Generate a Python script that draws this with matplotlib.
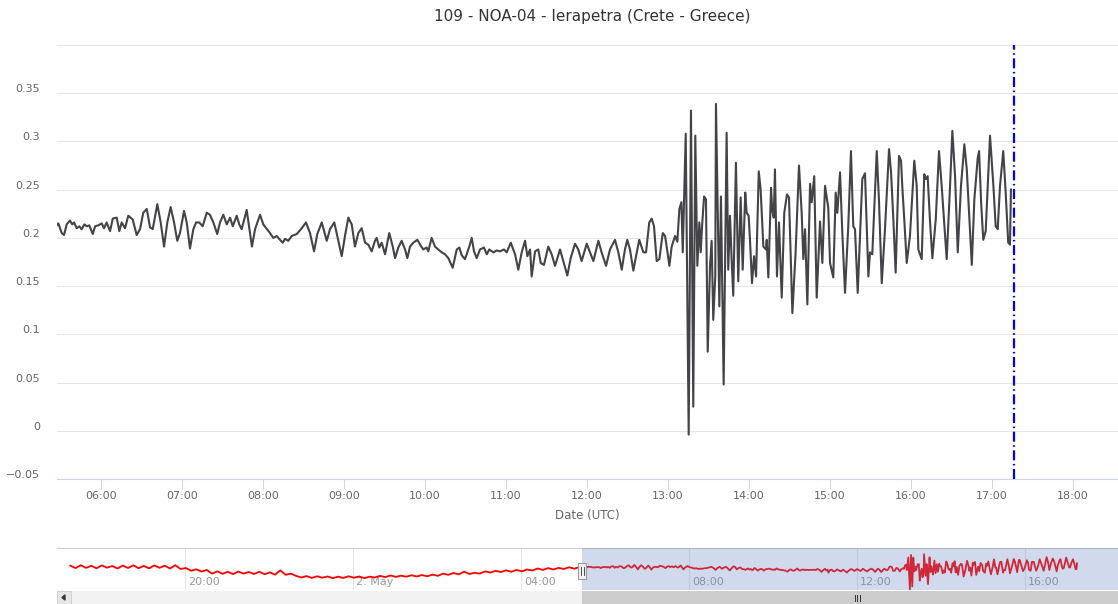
import numpy as np
import pandas as pd
import matplotlib
matplotlib.use('Agg')
from matplotlib import pyplot as plt
import matplotlib.dates as mdates
from matplotlib.transforms import ScaledTranslation
from matplotlib.patches import Rectangle, Polygon

plt.rcParams['font.family'] = ['DejaVu Sans']

day = pd.Timestamp('2020-05-02')
title = '109 - NOA-04 - Ierapetra (Crete - Greece)'

# sea level (m), minutes after 00:00 UTC 2 May
main_min = [
    326.7, 328.4, 330.9, 332.6, 334.6, 337.0, 338.7, 340.0, 342.0, 343.9,
    345.7, 347.6, 349.4, 351.3, 353.9, 355.6, 358.0, 360.5, 362.2, 364.2,
    366.7, 368.7, 371.6, 373.6, 375.3, 377.8, 380.2, 383.5, 386.4, 388.9,
    391.3, 393.9, 396.3, 398.3, 401.7, 404.2, 406.7, 409.1, 411.6, 414.1,
    416.5, 418.5, 421.5, 423.5, 425.9, 428.4, 430.4, 432.8, 435.3, 438.3,
    440.7, 443.2, 446.1, 448.1, 450.6, 453.1, 455.6, 457.6, 460.5, 462.4,
    464.2, 467.9, 471.8, 474.1, 477.8, 480.2, 485.2, 487.6, 490.1, 492.6,
    494.6, 496.3, 498.7, 501.3, 505.0, 508.7, 511.8, 514.8, 517.8, 520.2,
    523.5, 527.2, 529.6, 532.8, 538.3, 540.7, 543.2, 545.7, 548.1, 550.6,
    553.1, 555.6, 558.0, 560.5, 562.9, 564.2, 566.1, 567.9, 570.4, 573.5,
    576.1, 577.8, 580.2, 582.7, 585.2, 586.9, 588.9, 591.3, 594.3, 596.8,
    598.7, 601.2, 602.4, 604.9, 607.4, 609.8, 612.4, 614.8, 617.3, 620.5,
    623.5, 625.4, 627.2, 629.6, 632.8, 634.6, 636.3, 638.3, 640.7, 643.7,
    645.7, 647.6, 650.6, 653.1, 655.5, 658.5, 660.5, 663.5, 666.7, 669.1,
    671.6, 674.1, 675.8, 677.8, 679.0, 681.5, 683.9, 685.7, 688.1, 691.3,
    693.8, 696.3, 700.0, 702.4, 705.4, 707.9, 711.1, 713.5, 716.0, 719.8,
    722.2, 724.7, 728.4, 730.8, 734.1, 737.0, 740.7, 743.2, 745.7, 748.1,
    749.8, 751.8, 754.3, 756.3, 758.7, 761.7, 763.7, 766.1, 767.9, 769.6,
    771.6, 773.6, 776.1, 777.8, 779.0, 781.0, 782.7, 785.2, 786.9, 788.4,
    789.9, 790.9, 793.1, 795.3, 797.0, 798.7, 800.2, 801.7, 803.2, 804.2,
    805.2, 806.7, 808.1, 809.4, 811.1, 812.3, 813.5, 815.0, 815.5, 818.0,
    819.2, 821.2, 823.4, 824.6, 825.9, 827.1, 828.3, 830.3, 832.0, 833.8,
    835.3, 837.2, 838.2, 839.7, 840.7, 842.2, 843.7, 845.2, 847.2, 848.6,
    850.6, 852.6, 853.1, 854.3, 856.3, 857.2, 858.3, 859.2, 860.7, 862.2,
    864.2, 866.1, 868.1, 869.6, 872.1, 874.5, 877.0, 879.0, 880.2, 881.5,
    883.2, 885.2, 886.4, 888.3, 890.1, 892.6, 894.3, 896.3, 898.7, 900.0,
    902.4, 904.2, 905.4, 907.4, 909.1, 911.1, 913.5, 915.5, 917.2, 918.5,
    920.5, 923.9, 925.9, 928.4, 929.6, 931.3, 934.6, 936.3, 938.3, 940.7,
    943.7, 945.2, 946.9, 948.6, 951.1, 952.6, 953.5, 955.0, 956.8, 959.2,
    962.4, 964.2, 965.4, 967.9, 969.8, 970.9, 972.3, 974.1, 975.8, 978.3,
    980.7, 982.7, 986.4, 988.9, 990.6, 992.6, 994.6, 997.0, 999.5, 1001.3,
    1005.0, 1006.9, 1009.4, 1010.4, 1011.9, 1013.5, 1015.3, 1018.5, 1021.0, 1022.7,
    1024.2, 1025.9, 1028.3, 1030.1, 1032.0, 1033.3, 1034.0]
main_val = [
    0.212, 0.215, 0.205, 0.203, 0.214, 0.218, 0.214, 0.216, 0.210, 0.212,
    0.209, 0.214, 0.212, 0.213, 0.204, 0.212, 0.213, 0.215, 0.210, 0.216,
    0.207, 0.220, 0.221, 0.207, 0.216, 0.210, 0.223, 0.219, 0.203, 0.209,
    0.226, 0.230, 0.211, 0.209, 0.235, 0.216, 0.191, 0.216, 0.232, 0.216,
    0.197, 0.205, 0.228, 0.216, 0.189, 0.209, 0.216, 0.216, 0.212, 0.226,
    0.224, 0.216, 0.204, 0.216, 0.224, 0.214, 0.221, 0.212, 0.223, 0.214,
    0.209, 0.229, 0.191, 0.209, 0.224, 0.214, 0.205, 0.200, 0.202, 0.198,
    0.195, 0.199, 0.197, 0.202, 0.204, 0.210, 0.216, 0.205, 0.186, 0.204,
    0.216, 0.197, 0.209, 0.216, 0.181, 0.202, 0.221, 0.214, 0.191, 0.205,
    0.210, 0.195, 0.193, 0.186, 0.197, 0.200, 0.190, 0.195, 0.183, 0.205,
    0.191, 0.179, 0.190, 0.197, 0.188, 0.179, 0.191, 0.195, 0.198, 0.192,
    0.188, 0.190, 0.186, 0.200, 0.191, 0.188, 0.185, 0.183, 0.179, 0.169,
    0.188, 0.190, 0.182, 0.178, 0.191, 0.200, 0.186, 0.179, 0.188, 0.190,
    0.183, 0.188, 0.185, 0.187, 0.186, 0.188, 0.185, 0.195, 0.183, 0.167,
    0.185, 0.197, 0.181, 0.188, 0.160, 0.186, 0.188, 0.174, 0.172, 0.191,
    0.183, 0.171, 0.188, 0.176, 0.161, 0.179, 0.194, 0.188, 0.176, 0.194,
    0.185, 0.176, 0.197, 0.185, 0.171, 0.188, 0.198, 0.185, 0.167, 0.188,
    0.198, 0.188, 0.166, 0.181, 0.198, 0.185, 0.185, 0.216, 0.220, 0.212,
    0.176, 0.178, 0.205, 0.202, 0.191, 0.171, 0.191, 0.202, 0.196, 0.230,
    0.237, 0.185, 0.308, -0.004, 0.332, 0.025, 0.306, 0.171, 0.216, 0.185,
    0.212, 0.243, 0.240, 0.082, 0.171, 0.197, 0.115, 0.160, 0.339, 0.129,
    0.243, 0.048, 0.309, 0.167, 0.223, 0.178, 0.140, 0.278, 0.155, 0.242,
    0.167, 0.247, 0.226, 0.223, 0.198, 0.153, 0.181, 0.160, 0.269, 0.250,
    0.191, 0.188, 0.198, 0.159, 0.252, 0.228, 0.221, 0.271, 0.160, 0.216,
    0.138, 0.226, 0.245, 0.242, 0.122, 0.185, 0.275, 0.226, 0.178, 0.209,
    0.131, 0.256, 0.237, 0.264, 0.138, 0.217, 0.174, 0.254, 0.231, 0.174,
    0.159, 0.247, 0.226, 0.268, 0.205, 0.143, 0.212, 0.290, 0.212, 0.209,
    0.143, 0.261, 0.267, 0.160, 0.185, 0.183, 0.290, 0.237, 0.153, 0.209,
    0.292, 0.268, 0.219, 0.164, 0.285, 0.280, 0.254, 0.219, 0.174, 0.202,
    0.280, 0.254, 0.188, 0.178, 0.266, 0.261, 0.264, 0.216, 0.179, 0.219,
    0.290, 0.254, 0.178, 0.254, 0.311, 0.264, 0.185, 0.254, 0.297, 0.271,
    0.172, 0.240, 0.283, 0.290, 0.237, 0.198, 0.207, 0.306, 0.254, 0.212,
    0.209, 0.254, 0.290, 0.247, 0.195, 0.193, 0.250]

# earlier record, only visible in the navigator (7.5 min samples from 1 May 17:16)
nav_start_min = -404
nav_step_min = 7.5
nav_val = [
    0.228, 0.204, 0.232, 0.206, 0.226, 0.202, 0.230, 0.208, 0.224, 0.200,
    0.229, 0.205, 0.231, 0.203, 0.225, 0.201, 0.230, 0.207, 0.227, 0.200,
    0.232, 0.195, 0.205, 0.178, 0.192, 0.170, 0.186, 0.150, 0.172, 0.148,
    0.168, 0.145, 0.170, 0.150, 0.166, 0.146, 0.168, 0.144, 0.162, 0.140,
    0.182, 0.138, 0.150, 0.128, 0.112, 0.126, 0.108, 0.124, 0.110, 0.122,
    0.106, 0.120, 0.108, 0.124, 0.110, 0.122, 0.106, 0.120, 0.112, 0.128,
    0.116, 0.132, 0.118, 0.130, 0.120, 0.134, 0.122, 0.136, 0.124, 0.140,
    0.128, 0.150, 0.138, 0.156, 0.142, 0.170, 0.146, 0.158, 0.150, 0.172,
    0.160, 0.178, 0.165, 0.182, 0.168, 0.186, 0.172, 0.190, 0.180, 0.200,
    0.186, 0.204, 0.190, 0.206, 0.195, 0.212, 0.198, 0.214]

alert_min = 1036.3          # dash-dot marker, 17:16 UTC
view_min = (327.4, 1113.3)  # main chart x range
nav_range_h = (-7.05, 18.21)

# ---------------------------------------------------------------
W, H = 1118, 604
def box(l, t, r, b):
    return [l / W, 1 - b / H, (r - l) / W, (b - t) / H]

def at_min(m):
    return day + pd.to_timedelta(np.asarray(m, dtype=float), unit='min')

main_t = at_min(main_min)
nav_min = nav_start_min + nav_step_min * np.arange(len(nav_val))
all_t = at_min(np.concatenate([nav_min, main_min]))
all_v = np.concatenate([nav_val, main_val])

fig = plt.figure(figsize=(W / 100, H / 100), dpi=100)
fig.text(592 / W, 1 - 17 / H, title, ha='center', va='center', fontsize=11, color='#333333')

ax = fig.add_axes(box(57, 45, 1118, 479))
ax.plot(main_t, main_val, color='#434348', lw=1.5, solid_joinstyle='round', zorder=3)
ax.axvline(at_min(alert_min), color='#0000ff', lw=1.6, dashes=(4.5, 1.6, 0.7, 1.6), zorder=4)

ax.set_xlim(at_min(view_min[0]), at_min(view_min[1]))
ax.set_ylim(-0.05, 0.40)
yt = [-0.05, 0, 0.05, 0.1, 0.15, 0.2, 0.25, 0.3, 0.35]
ax.set_yticks(yt)
ax.set_yticklabels(['\u22120.05', '0', '0.05', '0.1', '0.15', '0.2', '0.25', '0.3', '0.35'])
ax.grid(axis='y', color='#e6e6e6', lw=0.75)
ax.set_axisbelow(True)
for s in ['left', 'right']:
    ax.spines[s].set_visible(False)
ax.spines['top'].set_color('#e6e6e6')
ax.spines['top'].set_linewidth(0.75)
ax.spines['bottom'].set_color('#ccd6eb')
ax.spines['bottom'].set_linewidth(0.8)
ax.tick_params(axis='y', length=0, pad=12, labelsize=8, labelcolor='#666666')
for lab in ax.get_yticklabels():
    lab.set_transform(lab.get_transform() + ScaledTranslation(0, 5 / 100, fig.dpi_scale_trans))
ax.xaxis.set_major_locator(mdates.HourLocator())
ax.xaxis.set_major_formatter(mdates.DateFormatter('%H:%M'))
ax.tick_params(axis='x', length=7, width=0.75, color='#ccd6eb', pad=1.5,
               labelsize=8, labelcolor='#666666')
ax.set_xlabel('Date (UTC)', fontsize=8.5, color='#666666', labelpad=6)

# navigator
nav = fig.add_axes(box(57, 548, 1118, 590))
nav.plot(all_t, all_v, color='#ff0000', lw=1.3, zorder=2)
n0 = day + pd.Timedelta(hours=nav_range_h[0])
n1 = day + pd.Timedelta(hours=nav_range_h[1])
nav.set_xlim(n0, n1)
nav.set_ylim(-0.01, 0.40)
nav.set_yticks([])
nav.xaxis.set_major_locator(mdates.HourLocator(byhour=range(0, 24, 4)))
nav.grid(axis='x', color='#e6e6e6', lw=0.75)
nav.set_axisbelow(True)
nav.tick_params(axis='x', length=0, labelbottom=False)
for s in ['left', 'right', 'bottom']:
    nav.spines[s].set_visible(False)
nav.spines['top'].set_color('#cccccc')
nav.spines['top'].set_linewidth(0.8)
for tk in nav.get_xticks():
    d = mdates.num2date(tk)
    txt = f'{d.day}. {d:%b}' if d.hour == 0 else f'{d:%H:%M}'
    nav.text(tk, 0.19, txt, fontsize=8, color='#999999', va='center', ha='left', zorder=1,
             clip_on=True).set_transform(nav.get_xaxis_transform()
                                         + ScaledTranslation(3 / 100, 0, fig.dpi_scale_trans))
v0 = at_min(view_min[0])
nav.axvspan(v0, n1, color=(102 / 255, 133 / 255, 194 / 255), alpha=0.3, lw=0, zorder=3)

# handle at the left edge of the selected range
fig.canvas.draw()
hx = nav.transData.transform((mdates.date2num(v0), 0))[0]
hy0, hy1 = H - 579, H - 563
fig.patches.append(Rectangle((hx - 4, hy0), 8, hy1 - hy0, transform=None,
                             facecolor='#f2f2f2', edgecolor='#999999', lw=0.8, zorder=5))
for dx in (-1.2, 1.2):
    fig.lines.append(plt.Line2D([hx + dx, hx + dx], [hy0 + 4, hy1 - 4], transform=None,
                                color='#333333', lw=0.6, zorder=6))

# scrollbar
sb = fig.add_axes(box(57, 591, 1118, 604))
sb.set_xlim(n0, n1)
sb.set_ylim(0, 1)
sb.axis('off')
sb.add_patch(Rectangle((0, 0), 1, 1, transform=sb.transAxes, color='#f2f2f2', zorder=0))
v1 = at_min(view_min[1])
sb.axvspan(v0, v1, color='#cccccc', lw=0, zorder=1)
sb.add_patch(Rectangle((0, 0), 14 / 1061, 1, transform=sb.transAxes,
                       facecolor='#e6e6e6', edgecolor='#cccccc', lw=0.6, zorder=2))
sb.add_patch(Polygon([(8 / 1061, 0.3), (8 / 1061, 0.7), (5 / 1061, 0.5)], closed=True,
                     transform=sb.transAxes, color='#333333', zorder=3))
gx = mdates.date2num(v0) + (mdates.date2num(v1) - mdates.date2num(v0)) / 2
gx_px = sb.transData.transform((gx, 0))[0]
for dx in (-2.5, 0, 2.5):
    fig.lines.append(plt.Line2D([gx_px + dx, gx_px + dx], [H - 601, H - 595], transform=None,
                                color='#333333', lw=0.7, zorder=6))

fig.savefig('out.png', dpi=100)
